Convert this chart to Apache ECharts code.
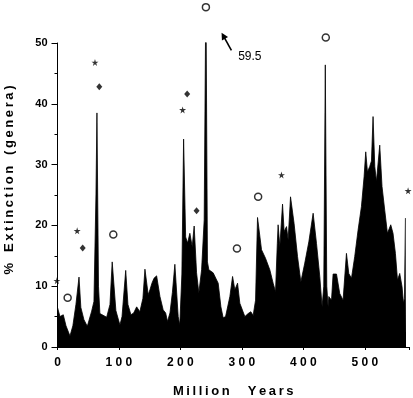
<!DOCTYPE html>
<html>
<head>
<meta charset="utf-8">
<script src="https://cdn.jsdelivr.net/npm/echarts@6/dist/echarts.min.js"></script>
<style>
  html, body { margin: 0; padding: 0; background: #fff; }
  #chart { width: 413px; height: 398px; }
</style>
</head>
<body>
<div id="chart"></div>
<script>
  // million years ago
  var years = [0, 4, 9.4, 13.8, 20.3, 25, 30, 35, 38, 43, 48.5, 55.6, 59.3, 62.6, 64.2, 66.7, 69, 72, 80, 85.4,
    89, 95, 101.6, 105, 111, 114.6, 119.5, 124, 128.8, 134, 139, 142.3, 147.6, 150.4, 153.7, 157, 161.3, 166.7,
    172, 176, 179, 183, 187, 191, 196.4, 199, 202.4, 205.2, 208.5, 211.7, 215.4, 219.2, 222.4, 226.3, 230,
    234.5, 238.7, 241.5, 244, 246.3, 253.3, 261.5, 265.9, 269.6, 273.5, 280.5, 284.9, 288.6, 293, 296.7, 304.9,
    310.2, 314.6, 318.4, 322.3, 325.5, 332, 338.5, 345.5, 350.9, 354.8, 357.7, 359, 361.8, 366.2, 368.8, 372.7,
    375.3, 379.2, 385, 390.6, 396, 402.4, 409, 416, 421.5, 426.8, 430.6, 433.3, 435.8, 438.2, 440.3, 441.5,
    445.9, 448.5, 454, 459.3, 464.7, 470.2, 474, 478.4, 483.7, 489.1, 494.6, 498.9, 501.6, 504.4, 508.1, 510.9,
    513.5, 516.3, 519, 521.6, 524.4, 528.1, 532.5, 536.9, 542.3, 546, 549.9, 553.3, 556.9, 560.7, 563, 564.6,
    566.2, 567.2];
  // % extinction of genera
  var extinction = [6.5, 5.0, 5.3, 3.5, 1.8, 3.5, 7, 11.5, 6.5, 4.5, 3.4, 5.9, 7.5, 25, 38.5, 10, 5.5, 5.3, 4.9, 7,
    14.0, 6, 3.6, 5, 12.6, 7, 5.3, 5.6, 6.6, 5.8, 8, 12.8, 8.6, 9.4, 10.5, 11.3, 11.7, 8.3,
    6.1, 5.6, 4.2, 5.6, 9, 13.6, 5.0, 3.6, 12, 34.2, 18.1, 17.1, 18.7, 16.5, 19.9, 12.2, 8.9,
    12.7, 20.9, 59.5, 14, 12.7, 12.2, 10.5, 6.6, 4.8, 5.0, 8.3, 11.6, 9.4, 10.5, 7.2, 5.0,
    5.5, 5.8, 5.2, 7.7, 21.3, 16.0, 14.6, 12.7, 10.5, 9.1, 17, 20.1, 16.5, 23.5, 19.0, 19.8,
    17.6, 24.7, 20.3, 14.9, 10.7, 13.8, 17.3, 22.0, 17.0, 11.6, 6.6, 10, 46.4, 10, 6.6, 8.3,
    7.7, 12.0, 12.0, 8.8, 7.7, 15.4, 12.1, 11.3, 14.9, 19.2, 23.1, 28.0, 32.1, 28.8, 29.7, 30.6,
    37.9, 29.7, 27.2, 26.9, 33.2, 26.4, 22.5, 18.7, 20.1, 18.7, 15.4, 11.0, 12.1, 9.9, 7.2, 8,
    21.2, 21.2];

  // symbols drawn above the curve
  var starX = [-1, 32, 61, 203.6, 364.5, 570.5];
  var starY = [10.9, 19.1, 46.8, 39.0, 28.3, 25.7];
  var dotX = [41, 68, 211, 226.3];
  var dotY = [16.3, 42.8, 41.6, 22.4];
  var ringX = [16.5, 90.8, 241.5, 292, 326.5, 436.6];
  var ringY = [8.1, 18.5, 55.9, 16.2, 24.7, 50.9];

  // off-scale peak note
  var peakNote = '59.5';
  var noteAt = [313, 47.7];
  var arrowTail = [283, 48.8];
  var arrowTip = [267, 51.7];

  var xTicks = [0, 100, 200, 300, 400, 500];
  var yTicks = [0, 10, 20, 30, 40, 50];

  function pairs(xs, ys) {
    var out = [];
    for (var i = 0; i < xs.length; i++) {
      out.push([xs[i], ys[i]]);
    }
    return out;
  }

  function spaced(s, sep) {
    return s.split('').join(sep);
  }

  var starPath = 'path://M50,0 L61,35 L98,35 L68,57 L79,91 L50,70 L21,91 L32,57 L2,35 L39,35 Z';
  var font = 'Liberation Sans';

  var chart = echarts.init(document.getElementById('chart'));
  var option = {
    animation: false,
    backgroundColor: '#fff',
    grid: { left: 57.5, right: 4, top: 43, bottom: 51, containLabel: false, outerBoundsMode: 'none' },
    xAxis: {
      type: 'value',
      min: 0,
      max: 572,
      interval: 100,
      name: spaced('Million', '\u2009') + '     ' + spaced('Years', '\u2009'),
      nameLocation: 'middle',
      nameGap: 38,
      nameTextStyle: { fontFamily: font, fontSize: 13, fontWeight: 'bold', color: '#000' },
      axisLine: { lineStyle: { color: '#000', width: 1 } },
      axisTick: { length: 3, lineStyle: { color: '#000' } },
      axisLabel: {
        fontFamily: font, fontSize: 12, fontWeight: 'bold', color: '#000', margin: 10,
        formatter: function (v) {
          return xTicks.indexOf(v) >= 0 ? spaced(String(v), ' ') : '';
        }
      },
      splitLine: { show: false }
    },
    yAxis: {
      type: 'value',
      min: 0,
      max: 50,
      interval: 10,
      name: '%   ' + spaced('Extinction', '\u2009') + '   ' + spaced('(genera)', '\u2009'),
      nameLocation: 'middle',
      nameGap: 42,
      nameTextStyle: { fontFamily: font, fontSize: 13, fontWeight: 'bold', color: '#000', padding: [0, 0, 0, 30] },
      axisLine: { show: true, lineStyle: { color: '#000', width: 1 } },
      axisTick: { show: true, length: 6, lineStyle: { color: '#000' } },
      minorTick: { show: true, splitNumber: 2, length: 3, lineStyle: { color: '#000' } },
      axisLabel: {
        fontFamily: font, fontSize: 11, fontWeight: 'bold', color: '#000', margin: 10,
        formatter: function (v) {
          return yTicks.indexOf(v) >= 0 ? String(v) : '';
        }
      },
      splitLine: { show: false }
    },
    series: [
      {
        type: 'line',
        data: pairs(years, extinction),
        showSymbol: false,
        sampling: 'none',
        lineStyle: { color: '#000', width: 0.8 },
        areaStyle: { color: '#000', opacity: 1 },
        silent: true,
        z: 2
      },
      {
        type: 'scatter',
        data: pairs(starX, starY),
        symbol: starPath,
        symbolSize: 7,
        clip: false,
        itemStyle: { color: '#000' },
        z: 3
      },
      {
        type: 'scatter',
        data: pairs(dotX, dotY),
        symbol: 'diamond',
        symbolSize: [6, 7],
        clip: false,
        itemStyle: { color: '#000' },
        z: 3
      },
      {
        type: 'scatter',
        data: pairs(ringX, ringY),
        symbol: 'circle',
        symbolSize: 7,
        clip: false,
        itemStyle: { color: '#fff', borderColor: '#000', borderWidth: 1.5 },
        z: 3,
        markPoint: {
          silent: true,
          symbol: 'circle',
          symbolSize: 0,
          label: {
            show: true, position: 'inside', formatter: peakNote,
            fontFamily: font, fontSize: 12, color: '#000'
          },
          data: [{ coord: noteAt }]
        }
      }
    ]
  };
  chart.setOption(option);

  // arrow pointing at the clipped peak, placed through the axes
  var tip = chart.convertToPixel({ gridIndex: 0 }, arrowTip);
  var tail = chart.convertToPixel({ gridIndex: 0 }, arrowTail);
  var dx = tip[0] - tail[0], dy = tip[1] - tail[1];
  var len = Math.sqrt(dx * dx + dy * dy);
  var ux = dx / len, uy = dy / len;
  var headLen = 7, headHalf = 3.5;
  var bx = tip[0] - ux * headLen, by = tip[1] - uy * headLen;
  chart.setOption({
    graphic: [
      {
        type: 'line',
        shape: { x1: tail[0], y1: tail[1], x2: bx + ux, y2: by + uy },
        style: { stroke: '#000', lineWidth: 1.6 },
        silent: true
      },
      {
        type: 'polygon',
        shape: {
          points: [
            [tip[0], tip[1]],
            [bx - uy * headHalf, by + ux * headHalf],
            [bx + uy * headHalf, by - ux * headHalf]
          ]
        },
        style: { fill: '#000' },
        silent: true
      }
    ]
  });
</script>
</body>
</html>
